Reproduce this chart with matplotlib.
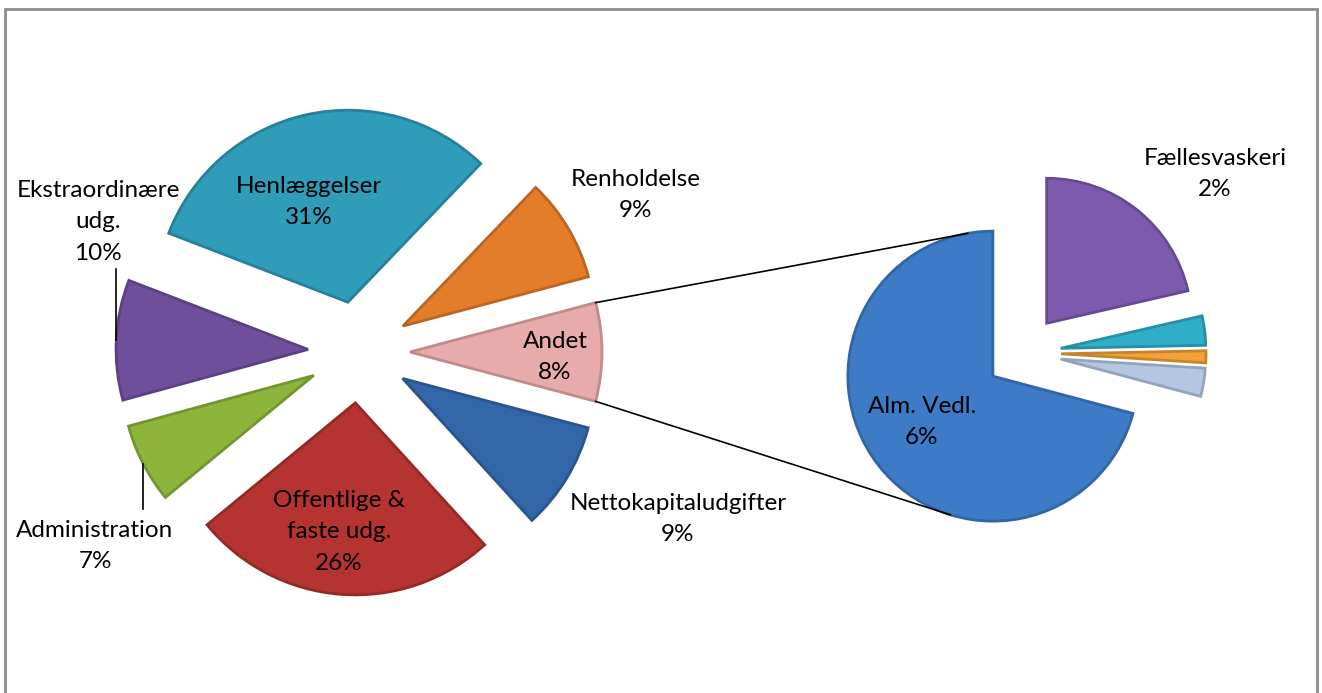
import matplotlib.pyplot as plt
from matplotlib.patches import Rectangle
from matplotlib.colors import to_rgb
import numpy as np

plt.rcParams['font.family'] = ['Lato', 'DejaVu Sans']

# secondary pie ("Andet" split), counterclockwise from 12 o'clock
sub_labels = ['Alm. Vedl.', '', '', '', 'Fællesvaskeri']
sub_values = [5.86, 0.26, 0.11, 0.27, 1.77]
sub_colors = ['#3D7BC7', '#B4C7E2', '#F2A236', '#30AEC8', '#7D5AAD']

# main pie, counterclockwise starting with "Andet" at 3 o'clock
main_labels = ['Andet', 'Renholdelse', 'Henlæggelser', 'Ekstraordinære\nudg.',
               'Administration', 'Offentlige &\nfaste udg.', 'Nettokapitaludgifter']
main_values = [sum(sub_values), 8.7, 31.3, 10.1, 6.7, 25.8, 9.1]
main_colors = ['#E6ABAA', '#E37D2A', '#2F9CBA', '#6F4F9B', '#8DB53B', '#B53331', '#3366A8']

W, H = 1322, 693

def shade(c, f):
    r, g, b = to_rgb(c)
    return (r * f, g * f, b * f)

fig = plt.figure(figsize=(W / 100, H / 100), dpi=100)
ax = fig.add_axes([0, 0, 1, 1])

# layout in pixels (y measured from the top of the image)
main_c, main_r, main_expl = (359, H - 352), 192, 51
sub_c, sub_r, sub_expl = (1023, H - 353), 145, 38

total = sum(main_values)
wm, _ = ax.pie(main_values, center=main_c, radius=main_r,
               startangle=-main_values[0] / total * 180, counterclock=True,
               explode=[main_expl] * len(main_values), colors=main_colors,
               wedgeprops=dict(linewidth=2))
ws, _ = ax.pie(sub_values, center=sub_c, radius=sub_r, startangle=90,
               counterclock=True, explode=[sub_expl] * len(sub_values),
               colors=sub_colors, wedgeprops=dict(linewidth=2))

for w, c in zip(list(wm) + list(ws), main_colors + sub_colors):
    w.set_edgecolor(shade(c, 0.82))

def arc_pt(w, ang):
    a = np.radians(ang)
    return w.center[0] + w.r * np.cos(a), w.center[1] + w.r * np.sin(a)

# connector lines between "Andet" and the secondary pie
andet, alm = wm[0], ws[0]
for a1, a2 in [(andet.theta2, 100), (andet.theta1, 253)]:
    p1, p2 = arc_pt(andet, a1), arc_pt(alm, a2)
    ax.plot([p1[0], p2[0]], [p1[1], p2[1]], color='black', lw=1.2)

# data labels
fs = 17.5
ls = 1.62
main_pos = [(555, 357), (636, 195), (309, 202), (98, 222), (95, 546), (339, 532), (678, 519)]
for lab, v, (x, y) in zip(main_labels, main_values, main_pos):
    ax.text(x, H - y, f'{lab}\n{v:.0f}%', ha='center', va='center',
            fontsize=fs, linespacing=ls, color='black')

sub_pos = {0: (922, 422), 4: (1215, 174)}
for i, (x, y) in sub_pos.items():
    ax.text(x, H - y, f'{sub_labels[i]}\n{sub_values[i]:.0f}%', ha='center',
            va='center', fontsize=fs, linespacing=ls, color='black')

# leader lines from slice edge to its outside label
for i, y_end in [(3, H - 269), (4, H - 509)]:
    w = wm[i]
    x0, y0 = arc_pt(w, (w.theta1 + w.theta2) / 2)
    ax.plot([x0, x0], [y0, y_end], color='black', lw=1.2)

ax.add_patch(Rectangle((5, -10), W - 10, H - 9 + 10, fill=False,
                       edgecolor='#8c8c8c', lw=2, clip_on=False))

ax.set_xlim(0, W)
ax.set_ylim(0, H)
ax.set_aspect('auto')
ax.axis('off')

fig.savefig('out.png', dpi=100)
